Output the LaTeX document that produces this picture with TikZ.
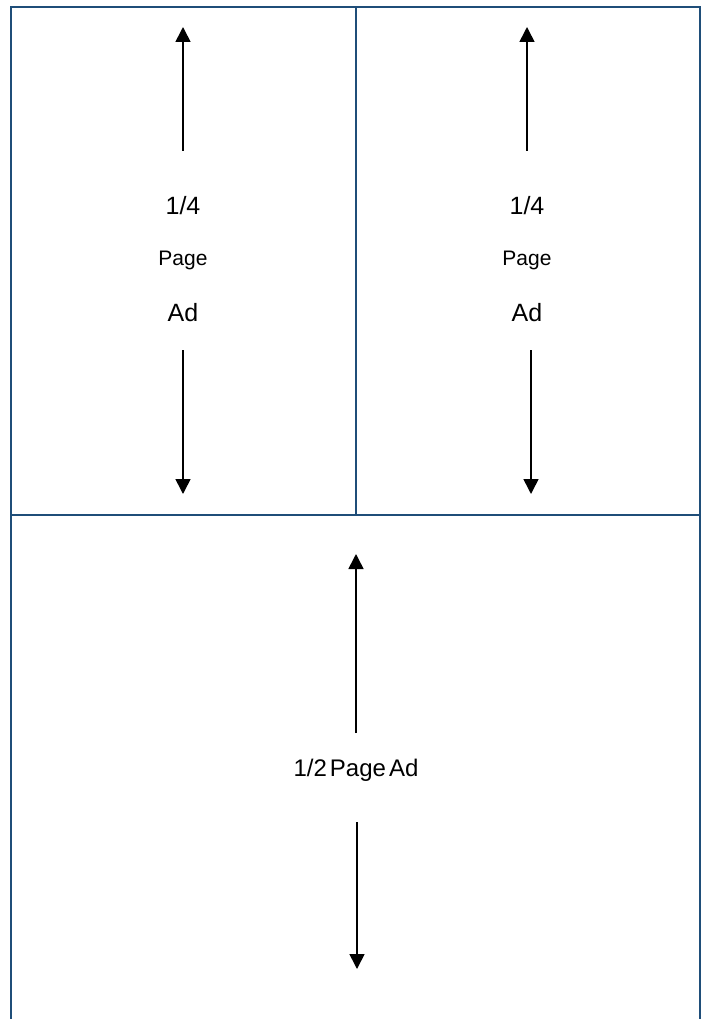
\documentclass[tikz,border=0pt]{standalone}
\usepackage{fontspec}
\setmainfont{Liberation Sans}
\newfontfamily\tightsans[WordSpace=0.45]{Liberation Sans}
\usetikzlibrary{arrows.meta}
\definecolor{frameblue}{RGB}{31,78,121}
\tikzset{
  adframe/.style={draw=frameblue, line width=2.2pt},
  adarrow/.style={line width=1.6pt, -{Triangle[width=15pt,length=15pt]}},
  bigtext/.style={font=\fontsize{25}{25}\selectfont, inner sep=0pt},
  smalltext/.style={font=\fontsize{21}{21}\selectfont, inner sep=0pt},
  halftext/.style={font=\tightsans\fontsize{24}{24}\selectfont, inner sep=0pt}
}
\begin{document}
\begin{tikzpicture}[x=1pt,y=-1pt]
\useasboundingbox (0,0) rectangle (706,1019);
% frame
\draw[adframe] (11,1020) -- (11,7) -- (700,7) -- (700,1020);
\draw[adframe] (11,515) -- (700,515);
\draw[adframe] (356,7) -- (356,515);
% left quarter
\node[bigtext] (lq-num) at (183,206) {1/4};
\node[smalltext] (lq-page) at (183,260) {Page};
\node[bigtext] (lq-ad) at (183,313) {Ad};
\coordinate (lq-up-s) at (183,151);
\coordinate (lq-up-e) at (183,27);
\coordinate (lq-dn-s) at (183,350);
\coordinate (lq-dn-e) at (183,494);
\draw[adarrow] (lq-up-s) -- (lq-up-e);
\draw[adarrow] (lq-dn-s) -- (lq-dn-e);
% right quarter
\node[bigtext] (rq-num) at (527,206) {1/4};
\node[smalltext] (rq-page) at (527,260) {Page};
\node[bigtext] (rq-ad) at (527,313) {Ad};
\coordinate (rq-up-s) at (527,151);
\coordinate (rq-up-e) at (527,27);
\coordinate (rq-dn-s) at (531,350);
\coordinate (rq-dn-e) at (531,494);
\draw[adarrow] (rq-up-s) -- (rq-up-e);
\draw[adarrow] (rq-dn-s) -- (rq-dn-e);
% half page
\node[halftext] (hp-text) at (356,770) {1/2 Page Ad};
\coordinate (hp-up-s) at (356,733);
\coordinate (hp-up-e) at (356,554);
\coordinate (hp-dn-s) at (357,822);
\coordinate (hp-dn-e) at (357,969);
\draw[adarrow] (hp-up-s) -- (hp-up-e);
\draw[adarrow] (hp-dn-s) -- (hp-dn-e);
\end{tikzpicture}
\end{document}
